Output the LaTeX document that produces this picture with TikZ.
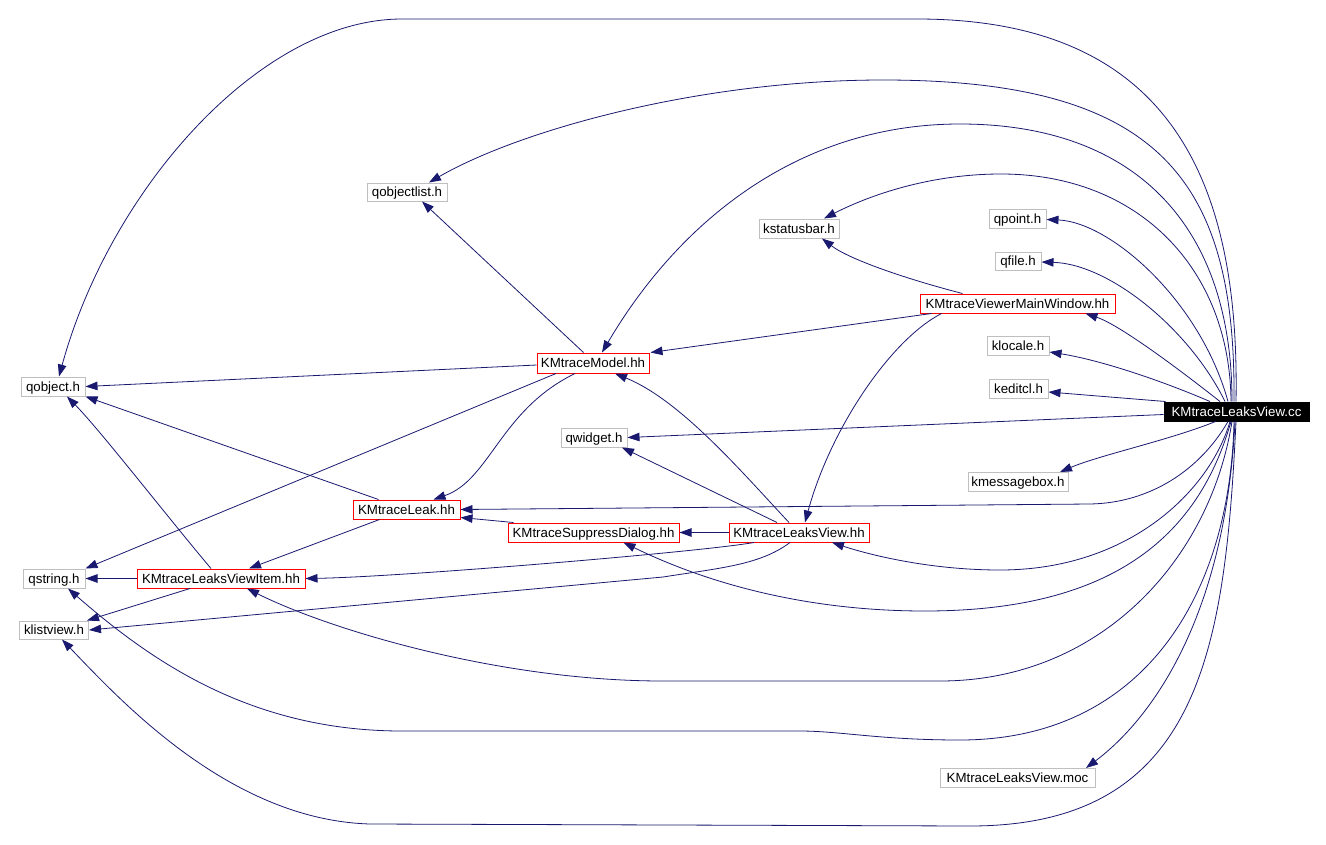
\documentclass[tikz,border=0pt]{standalone}
\usepackage{fontspec}
\setmainfont{Liberation Sans}
\usetikzlibrary{arrows.meta,calc}
\definecolor{navy}{HTML}{191970}
\definecolor{boxgray}{HTML}{BFBFBF}
\begin{document}
\begin{tikzpicture}[x=1pt,y=-1pt,
  box/.style={draw=boxgray, fill=white, line width=1pt, inner sep=0pt, minimum height=19pt,
              text height=9.6pt, text depth=0pt,
              font=\fontsize{13.3}{15}\selectfont, text=black},
  rbox/.style={box, draw=red},
  dep/.style={draw=navy, line width=0.8pt, -{Triangle[length=12pt,width=8.5pt]}}]
\useasboundingbox (0,0) rectangle (1326,844);
\fill[white] (0,0) rectangle (1326,844);
% nodes
\node[box, minimum width=64] (qobject) at (53,386.5) {qobject.h};
\node[box, minimum width=62] (qstring) at (54,578.5) {qstring.h};
\node[box, minimum width=69, minimum height=18] (klistview) at (54,630) {klistview.h};
\node[rbox, minimum width=168] (item) at (221,578.5) {KMtraceLeaksViewItem.hh};
\node[box, minimum width=80, minimum height=18] (qobjectlist) at (407,192) {qobjectlist.h};
\node[rbox, minimum width=107] (leak) at (406.5,509.5) {KMtraceLeak.hh};
\node[rbox, minimum width=112, minimum height=20] (model) at (593,363) {KMtraceModel.hh};
\node[box, minimum width=66] (qwidget) at (594,437.5) {qwidget.h};
\node[rbox, minimum width=171] (supp) at (593.5,532.5) {KMtraceSuppressDialog.hh};
\node[box, minimum width=80] (kstatusbar) at (799,228.5) {kstatusbar.h};
\node[rbox, minimum width=140] (view) at (799,532.5) {KMtraceLeaksView.hh};
\node[box, minimum width=57] (qpoint) at (1017.5,218.5) {qpoint.h};
\node[box, minimum width=46, minimum height=18] (qfile) at (1018,261) {qfile.h};
\node[rbox, minimum width=195] (mainwin) at (1017.5,303.5) {KMtraceViewerMainWindow.hh};
\node[box, minimum width=62] (klocale) at (1018,346) {klocale.h};
\node[box, minimum width=59] (keditcl) at (1018.5,388.5) {keditcl.h};
\node[box, minimum width=100] (kmessagebox) at (1018,482) {kmessagebox.h};
\node[box, minimum width=155] (moc) at (1017.5,778) {KMtraceLeaksView.moc};
\node[box, draw=black, fill=black, text=white, minimum width=145] (cc) at (1236.5,411.5) {KMtraceLeaksView.cc};
% edges from KMtraceLeaksView.cc
\draw[dep] ($(cc.north)+(-0.5,0)$) .. controls (1240,180) and (1170,19) .. (917,19) -- (402,19)
  .. controls (260,19) and (110,190) .. ($(qobject.north)+(6,0)$);
\draw[dep] ($(cc.north)+(-2.5,0)$) .. controls (1236,180) and (1160,80) .. (883,80)
  .. controls (700,80) and (520,130) .. ($(qobjectlist.north)+(22,0)$);
\draw[dep] ($(cc.north)+(-4.5,0)$) .. controls (1232,220) and (1130,124) .. (960,124)
  .. controls (800,124) and (680,220) .. ($(model.north)+(9,0)$);
\draw[dep] ($(cc.north)+(-5.5,0)$) .. controls (1230,270) and (1140,174) .. (1001,174)
  .. controls (930,174) and (870,195) .. ($(kstatusbar.north)+(25,0)$);
\draw[dep] ($(cc.north)+(-8.5,0)$) .. controls (1200,300) and (1110,222) .. ($(qpoint.east)+(0,1)$);
\draw[dep] ($(cc.north)+(-11.5,0)$) .. controls (1190,330) and (1110,264) .. ($(qfile.east)+(0,1)$);
\draw[dep] ($(cc.north)+(-16.5,0)$) .. controls (1180,370) and (1120,325) .. ($(mainwin.south)+(68,0)$);
\draw[dep] ($(cc.north)+(-26.5,0)$) .. controls (1160,380) and (1100,360) .. ($(klocale.east)+(0,6)$);
\draw[dep] ($(cc.north west)+(2,0)$) -- ($(keditcl.east)+(0,3.5)$);
\draw[dep] ($(cc.west)+(0,3)$) -- (qwidget.east);
\draw[dep] ($(cc.south)+(-21,0)$) .. controls (1170,440) and (1100,455) .. ($(kmessagebox.north)+(42,0)$);
\draw[dep] ($(cc.south)+(-8.5,0)$) .. controls (1200,470) and (1150,503) .. (1090,504) -- (leak.east);
\draw[dep] ($(cc.south)+(-6.5,0)$) .. controls (1210,490) and (1130,570) .. (1000,570)
  .. controls (930,570) and (870,555) .. ($(view.south)+(33,0)$);
\draw[dep] ($(cc.south)+(-5.5,0)$) .. controls (1200,530) and (1120,611) .. (925,611)
  .. controls (780,611) and (680,570) .. ($(supp.south)+(30,0)$);
\draw[dep] ($(cc.south)+(-4.5,0)$) .. controls (1210,560) and (1100,681) .. (940,681) -- (663,681)
  .. controls (500,681) and (330,630) .. ($(item.south)+(26,0)$);
\draw[dep] ($(cc.south)+(-2.5,0)$) .. controls (1230,600) and (1140,740) .. (960,740)
  .. controls (880,740) and (840,731) .. (800,731) -- (402,731)
  .. controls (250,731) and (150,660) .. ($(qstring.south)+(14,0)$);
\draw[dep] ($(cc.south)+(-1.5,0)$) .. controls (1225,620) and (1150,720) .. ($(moc.north)+(68.5,0)$);
\draw[dep] ($(cc.south)+(-0.5,0)$) .. controls (1225,650) and (1200,826) .. (970,826) -- (370,824)
  .. controls (230,820) and (120,700) .. ($(klistview.south)+(8,0)$);
% other edges
\draw[dep] ($(mainwin.north)+(-55,0)$) .. controls (910,280) and (850,260) .. ($(kstatusbar.south)+(23,0)$);
\draw[dep] ($(mainwin.south west)+(12,0)$) -- ($(model.north east)+(1,0)$);
\draw[dep] ($(mainwin.south west)+(22,0)$) .. controls (890,340) and (830,430) .. ($(view.north)+(6,0)$);
\draw[dep] ($(model.north)+(-9.5,0)$) -- ($(qobjectlist.south)+(15,0)$);
\draw[dep] ($(model.west)+(0,2)$) -- (qobject.east);
\draw[dep] ($(model.south)+(-18,0)$) .. controls (500,410) and (490,480) .. ($(leak.north)+(27,0)$);
\draw[dep] ($(model.south)+(-37,0)$) -- (qstring.north east);
\draw[dep] ($(leak.north west)+(26,0)$) -- (qobject.south east);
\draw[dep] ($(leak.south)+(-27,0)$) -- ($(item.north)+(28,0)$);
\draw[dep] ($(supp.north west)+(6,0)$) -- ($(leak.south east)+(0,-2)$);
\draw[dep] (view.west) -- (supp.east);
\draw[dep] ($(view.north)+(-10,0)$) .. controls (740,470) and (680,400) .. ($(model.south)+(22,0)$);
\draw[dep] ($(view.north)+(-22,0)$) -- ($(qwidget.south)+(28,0)$);
\draw[dep] ($(view.south)+(-45,0)$) .. controls (700,552) and (400,577) .. (item.east);
\draw[dep] ($(view.south)+(-9,0)$) .. controls (760,565) and (720,568) .. (663,577) -- (klistview.east);
\draw[dep] (item.west) -- (qstring.east);
\draw[dep] ($(item.north)+(-10,0)$) .. controls (170,520) and (100,430) .. ($(qobject.south)+(14,0)$);
\draw[dep] ($(item.south)+(-31,0)$) -- ($(klistview.north east)+(-2,0)$);
\end{tikzpicture}
\end{document}
